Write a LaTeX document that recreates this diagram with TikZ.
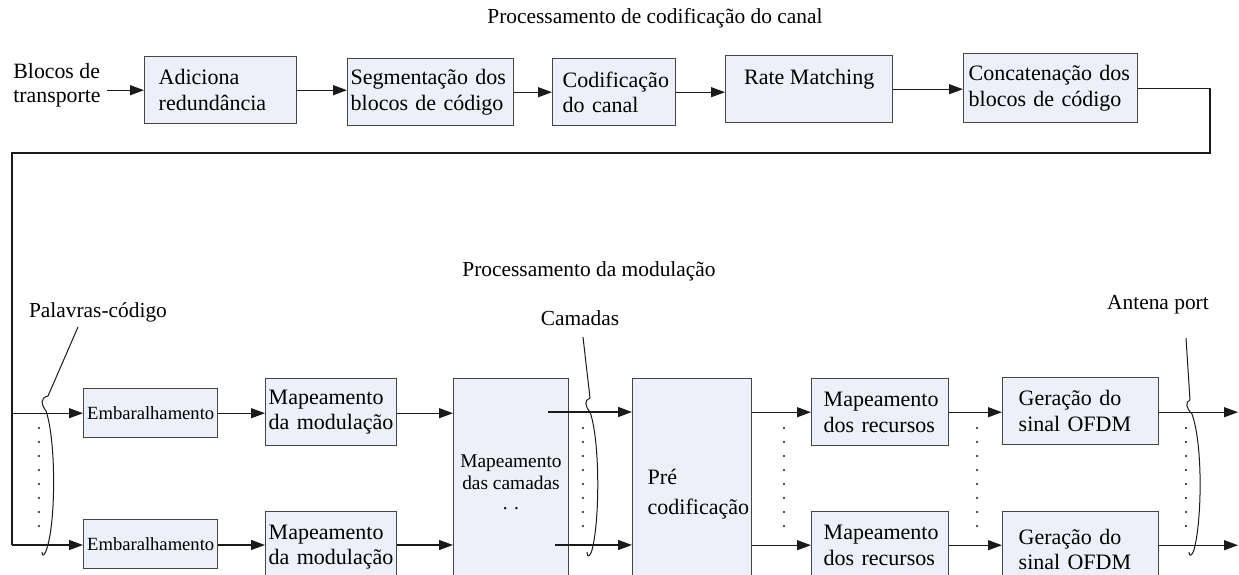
\documentclass[tikz,border=0pt]{standalone}
\usepackage{fontspec}
\setmainfont{Liberation Serif}
\usetikzlibrary{arrows.meta}
\hyphenpenalty=10000
\exhyphenpenalty=10000
\definecolor{boxfill}{HTML}{EDF0F8}
\definecolor{boxline}{HTML}{454545}
\definecolor{wire}{HTML}{1A1A1A}
\begin{document}
\begin{tikzpicture}[x=0.5pt,y=-0.5pt,
  box/.style={draw=boxline,fill=boxfill,line width=0.7pt,inner ysep=0pt,anchor=north west,
    font=\fontsize{11}{12.75}\selectfont},
  lbl/.style={inner sep=0pt,font=\fontsize{10.7}{12.5}\selectfont},
  arr/.style={draw=wire,-{Triangle[length=7pt,width=5pt]},line width=0.6pt},
  ln/.style={draw=wire,line width=0.6pt},
  brk/.style={draw=wire,line width=0.5pt},
  pt/.style={fill=wire}]
\useasboundingbox (0,0) rectangle (1239,574);
\fill[white] (0,0) rectangle (1239,574);
\clip (0,0) rectangle (1239,574);

% titles and labels
\node[lbl] (t1) at (655,18) {Processamento de codificação do canal};
\node[lbl] (t2) at (589,271) {Processamento da modulação};
\node[lbl,anchor=west,align=left,font=\fontsize{10.9}{12}\selectfont] (blocos) at (13,85) {Blocos de\\transporte};
\node[lbl] (palavras) at (98,312) {Palavras-código};
\node[lbl] (camadas) at (580,318) {Camadas};
\node[lbl] (antena) at (1158,305) {Antena port};

% top row
\node[box,minimum width=76pt,minimum height=33.5pt,inner xsep=7pt,text width=62pt,align=left] (add) at (144,56) {Adiciona\\redundância};
\node[box,minimum width=83pt,minimum height=33.5pt,inner xsep=1.5pt,text width=80pt,align=left] (seg) at (347,58) {Segmentação dos\\blocos de código};
\node[box,minimum width=61.5pt,minimum height=33.5pt,inner xsep=5pt,text width=51.5pt,align=left] (cod) at (552,58) {Codificação\\do canal};
\node[box,minimum width=83.5pt,minimum height=33.5pt,align=center] (rate) at (725,55) {Rate Matching\\\mbox{}};
\node[box,minimum width=87pt,minimum height=34.5pt,inner xsep=2.5pt,text width=82pt,align=left] (conc) at (963,53) {Concatenação dos\\blocos de código};

% bottom rows
\node[box,minimum width=67pt,minimum height=24.5pt,inner xsep=0pt,font=\fontsize{9.3}{11}\selectfont] (emb1) at (83,388) {Embaralhamento};
\node[box,minimum width=67pt,minimum height=24.5pt,inner xsep=0pt,font=\fontsize{9.3}{11}\selectfont] (emb2) at (83,519) {Embaralhamento};
\node[box,minimum width=65.5pt,minimum height=33.5pt,inner xsep=1.5pt,text width=62.5pt,align=left] (mod1) at (265,378) {Mapeamento\\da modulação};
\node[box,minimum width=65.5pt,minimum height=35.5pt,inner xsep=1.5pt,text width=62.5pt,align=left] (mod2) at (265,511) {Mapeamento\\da modulação};
\node[box,minimum width=55.5pt,minimum height=103.5pt,align=center,font=\fontsize{9.7}{11}\selectfont] (cam) at (453,378) {Mapeamento\\das camadas\\[-1pt]. .};
\node[box,minimum width=59.5pt,minimum height=115pt,inner xsep=7.5pt,text width=44.5pt,align=left,font=\fontsize{11}{15}\selectfont] (pre) at (632,378) {Pré\\codificação};
\node[box,minimum width=68.5pt,minimum height=33.5pt,inner xsep=6pt,text width=56.5pt,align=left] (rec1) at (811,378) {Mapeamento\\dos recursos};
\node[box,minimum width=68.5pt,minimum height=33.5pt,inner xsep=6pt,text width=56.5pt,align=left] (rec2) at (811,511) {Mapeamento\\dos recursos};
\node[box,minimum width=78pt,minimum height=33.5pt,inner xsep=8pt,text width=62pt,align=left] (ger1) at (1002,377) {Geração do\\sinal OFDM};
\node[box,minimum width=78pt,minimum height=38pt,inner xsep=8pt,text width=62pt,align=left] (ger2) at (1002,511) {Geração do\\sinal OFDM};

% helper coordinates
\coordinate (fbR) at (1210,153);
\coordinate (fbL) at (12,153);
\coordinate (fbB) at (12,545);
\coordinate (camO1) at (548,412);
\coordinate (camO2) at (555,545);
\coordinate (out) at (1238,412);

% top connectors
\draw[arr,shorten <=3pt] (add.west -| blocos.east) -- (add.west);
\draw[arr] (add.east) -- (add.east -| seg.west);
\draw[arr] (seg.east) -- (seg.east -| cod.west);
\draw[arr] (cod.east) -- (cod.east -| rate.west);
\draw[arr] (rate.east) -- (rate.east -| conc.west);
\draw[ln] (conc.east) -| (fbR) -- (fbL) -- (fbB);

% bottom connectors
\draw[arr] (fbL |- emb1.west) -- (emb1.west);
\draw[arr] (fbB) -- (fbB -| emb2.west);
\draw[arr] (emb1.east) -- (emb1.east -| mod1.west);
\draw[arr] (emb2.east |- fbB) -- (mod2.west |- fbB);
\draw[arr] (mod1.east |- emb1) -- (cam.west |- emb1);
\draw[arr] (mod2.east |- fbB) -- (cam.west |- fbB);
\draw[arr] (camO1) -- (camO1 -| pre.west);
\draw[arr] (camO2) -- (camO2 -| pre.west);
\draw[arr] (pre.east |- rec1) -- (rec1.west);
\draw[arr] (pre.east |- rec2) -- (rec2.west);
\draw[arr] (rec1.east) -- (rec1.east -| ger1.west);
\draw[arr] (rec2.east) -- (rec2.east -| ger2.west);
\draw[arr] (ger1.east |- rec1) -- (out |- rec1);
\draw[arr] (ger2.east |- rec2) -- (out |- rec2);

% leaders and brackets
\draw[brk] (78,327) -- (48,396);
\draw[brk] (48,396) .. controls (40,398) and (41,404) .. (46,411) .. controls (56,440) and (56,520) .. (47,548) .. controls (45,555) and (42,558) .. (42,552);
\draw[brk] (583,337) -- (590,398);
\draw[brk] (590,398) .. controls (584,400) and (585,406) .. (590,412) .. controls (600,440) and (600,520) .. (592,550) .. controls (590,557) and (587,558) .. (587,552);
\draw[brk] (1186,338) -- (1190,400);
\draw[brk] (1190,400) .. controls (1185,402) and (1186,408) .. (1192,414) .. controls (1203,445) and (1202,520) .. (1194,550) .. controls (1192,556) and (1189,557) .. (1189,552);

% vertical dots
\foreach \xx in {39,583,784,977,1186}{
  \foreach \yy in {428,442,456,470,484,498,512,526}{
    \fill[pt] (\xx,\yy) circle[radius=0.6pt];
  }
}
\end{tikzpicture}
\end{document}
